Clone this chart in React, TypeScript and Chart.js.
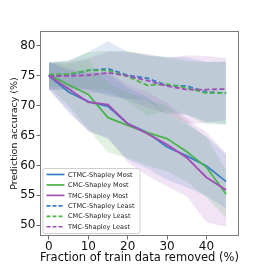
import React, { useEffect, useRef } from "react";
import { Chart, registerables } from "chart.js";

Chart.register(...registerables);

const X_VALUES = [0, 5, 10, 15, 20, 25, 30, 35, 40, 45];
const X_TICKS = [0, 10, 20, 30, 40];
const Y_TICKS = [50, 55, 60, 65, 70, 75, 80];

const CTMC_MOST = [75.0, 72.3, 70.7, 69.9, 67.0, 65.5, 63.1, 61.6, 59.9, 57.3];
const CMC_MOST = [75.2, 73.5, 71.9, 68.0, 66.7, 65.5, 64.5, 62.3, 59.7, 55.2];
const TMC_MOST = [75.0, 72.8, 70.6, 70.2, 67.0, 65.3, 63.5, 61.3, 58.0, 55.9];
const CTMC_LEAST = [75.0, 75.2, 75.9, 76.2, 75.1, 74.6, 73.4, 73.3, 72.3, 72.1];
const CMC_LEAST = [75.2, 75.3, 75.9, 75.9, 74.9, 73.4, 73.6, 73.0, 72.1, 72.1];
const TMC_LEAST = [74.9, 75.0, 75.1, 75.5, 75.0, 74.2, 73.3, 72.7, 72.7, 72.8];

const CTMC_MOST_STD = [2.3, 3.5, 4.8, 5.5, 6.0, 6.0, 5.5, 5.3, 5.0, 4.5];
const CMC_MOST_STD = [2.0, 3.5, 5.8, 5.8, 5.5, 5.5, 5.5, 5.0, 5.0, 4.0];
const TMC_MOST_STD = [2.3, 3.5, 5.0, 5.5, 6.5, 7.0, 7.0, 6.5, 7.5, 6.2];
const CTMC_LEAST_STD = [2.3, 2.4, 3.1, 4.6, 3.9, 3.7, 4.8, 4.8, 5.0, 5.3];
const CMC_LEAST_STD = [2.0, 2.2, 3.1, 3.3, 4.3, 5.1, 4.5, 4.5, 5.2, 5.2];
const TMC_LEAST_STD = [2.3, 2.3, 2.9, 3.5, 4.0, 4.5, 4.7, 5.7, 5.6, 5.2];

const LABELS = [
  "CTMC-Shapley Most",
  "CMC-Shapley Most",
  "TMC-Shapley Most",
  "CTMC-Shapley Least",
  "CMC-Shapley Least",
  "TMC-Shapley Least",
];

const BLUE = "#3a7fc6";
const GREEN = "#4cb24c";
const PURPLE = "#a24db3";
const BLUE_FILL = "rgba(60,125,185,0.16)";
const GREEN_FILL = "rgba(80,165,80,0.16)";
const PURPLE_FILL = "rgba(170,105,200,0.18)";

const FONT = "'DejaVu Sans', sans-serif";

type S = { label: string; mean: number[]; std: number[]; color: string; fill: string; dash: number[] };

const SERIES: S[] = [
  { label: LABELS[0], mean: CTMC_MOST, std: CTMC_MOST_STD, color: BLUE, fill: BLUE_FILL, dash: [] },
  { label: LABELS[1], mean: CMC_MOST, std: CMC_MOST_STD, color: GREEN, fill: GREEN_FILL, dash: [] },
  { label: LABELS[2], mean: TMC_MOST, std: TMC_MOST_STD, color: PURPLE, fill: PURPLE_FILL, dash: [] },
  { label: LABELS[3], mean: CTMC_LEAST, std: CTMC_LEAST_STD, color: BLUE, fill: BLUE_FILL, dash: [5, 2.5] },
  { label: LABELS[4], mean: CMC_LEAST, std: CMC_LEAST_STD, color: GREEN, fill: GREEN_FILL, dash: [5, 2.5] },
  { label: LABELS[5], mean: TMC_LEAST, std: TMC_LEAST_STD, color: PURPLE, fill: PURPLE_FILL, dash: [5, 2.5] },
];

const framePlugin = {
  id: "frame",
  afterDraw(chart: any) {
    const { ctx, chartArea: a } = chart;
    ctx.save();
    ctx.strokeStyle = "#7a7a7a";
    ctx.lineWidth = 1;
    ctx.strokeRect(a.left + 0.5, a.top + 0.5, a.right - a.left - 1, a.bottom - a.top - 1);
    // legend
    const bx = a.left + 2.5;
    const by = a.bottom - 68;
    const bw = 97;
    const bh = 65;
    ctx.beginPath();
    if ((ctx as any).roundRect) (ctx as any).roundRect(bx + 0.5, by + 0.5, bw, bh, 2);
    else ctx.rect(bx + 0.5, by + 0.5, bw, bh);
    ctx.fillStyle = "rgba(255,255,255,0.8)";
    ctx.fill();
    ctx.strokeStyle = "#d0d0d0";
    ctx.lineWidth = 1;
    ctx.stroke();
    ctx.font = `6.5px ${FONT}`;
    ctx.textBaseline = "middle";
    ctx.textAlign = "left";
    SERIES.forEach((s, i) => {
      const y = by + 6.5 + i * 10.45;
      ctx.beginPath();
      ctx.setLineDash(s.dash.length ? [4, 2] : []);
      ctx.strokeStyle = s.color;
      ctx.lineWidth = 1.7;
      ctx.moveTo(bx + 4, y);
      ctx.lineTo(bx + 22, y);
      ctx.stroke();
      ctx.setLineDash([]);
      ctx.fillStyle = "#222";
      ctx.fillText(s.label, bx + 25.5, y + 0.5);
    });
    ctx.restore();
  },
};

export default function App() {
  const ref = useRef<HTMLCanvasElement>(null);
  useEffect(() => {
    document.body.style.margin = "0";
    const bands: any[] = [];
    SERIES.forEach((s) => {
      bands.push({
        data: X_VALUES.map((x, i) => ({ x, y: s.mean[i] + s.std[i] })),
        borderWidth: 0,
        pointRadius: 0,
        fill: false,
        backgroundColor: s.fill,
      });
      bands.push({
        data: X_VALUES.map((x, i) => ({ x, y: s.mean[i] - s.std[i] })),
        borderWidth: 0,
        pointRadius: 0,
        fill: "-1",
        backgroundColor: s.fill,
      });
    });
    const lines = SERIES.map((s) => ({
      label: s.label,
      data: X_VALUES.map((x, i) => ({ x, y: s.mean[i] })),
      borderColor: s.color,
      borderWidth: 1.8,
      borderDash: s.dash,
      pointRadius: 0,
      fill: false,
      tension: 0,
    }));
    const datasets = [...lines.slice().reverse(), ...bands];
    const chart = new Chart(ref.current!, {
      type: "line",
      data: { datasets },
      options: {
        animation: false,
        responsive: false,
        events: [],
        layout: { padding: { left: 0, right: 27, top: 31, bottom: 0 } },
        plugins: { legend: { display: false }, tooltip: { enabled: false } },
        scales: {
          x: {
            type: "linear",
            min: -2.25,
            max: 48.25,
            afterBuildTicks: (sc: any) => {
              sc.ticks = X_TICKS.map((v) => ({ value: v }));
            },
            afterFit: (sc: any) => {
              sc.height = 30;
            },
            grid: { drawOnChartArea: false, drawTicks: true, tickLength: 3.5, color: "#444", lineWidth: 0.8 },
            border: { display: false },
            ticks: { color: "#111", font: { family: FONT, size: 12 }, padding: 0, maxRotation: 0 },
            title: {
              display: true,
              text: "Fraction of train data removed (%)",
              color: "#111",
              font: { family: FONT, size: 11.5 },
              padding: { top: 0, bottom: 1 },
            },
          },
          y: {
            type: "linear",
            min: 48.2,
            max: 82.5,
            afterBuildTicks: (sc: any) => {
              sc.ticks = Y_TICKS.map((v) => ({ value: v }));
            },
            afterFit: (sc: any) => {
              sc.width = 40;
            },
            grid: { drawOnChartArea: false, drawTicks: true, tickLength: 3.5, color: "#444", lineWidth: 0.8 },
            border: { display: false },
            ticks: { color: "#111", font: { family: FONT, size: 12 }, padding: 1 },
            title: {
              display: true,
              text: "Prediction accuracy (%)",
              color: "#111",
              font: { family: FONT, size: 9.5 },
              padding: { top: 8.5, bottom: 0 },
            },
          },
        },
      },
      plugins: [framePlugin],
    });
    return () => chart.destroy();
  }, []);
  return <canvas ref={ref} width={266} height={266} style={{ display: "block" }} />;
}
